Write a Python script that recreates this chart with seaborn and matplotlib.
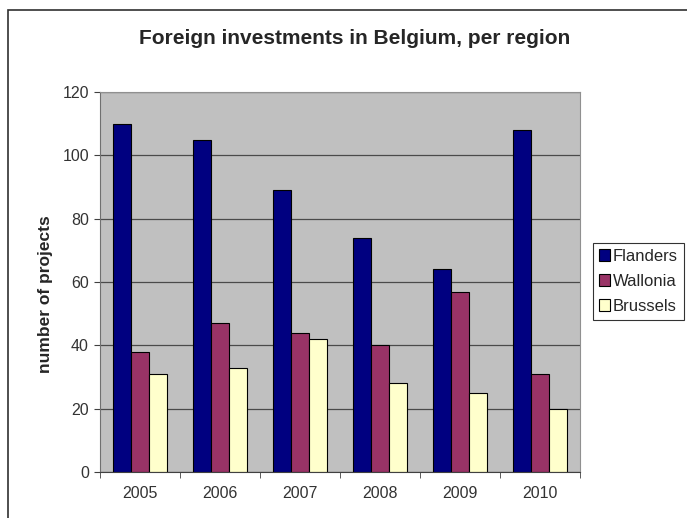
import matplotlib
matplotlib.use("Agg")
import matplotlib.pyplot as plt
import seaborn as sns
import pandas as pd
import numpy as np
from matplotlib.patches import Rectangle

years = ["2005", "2006", "2007", "2008", "2009", "2010"]
regions = ["Flanders", "Wallonia", "Brussels"]
flanders = [110, 105, 89, 74, 64, 108]
wallonia = [38, 47, 44, 40, 57, 31]
brussels = [31, 33, 42, 28, 25, 20]
colors = ["#000080", "#993366", "#FFFFCC"]

df = pd.DataFrame({
    "year": years * 3,
    "region": [r for r in regions for _ in years],
    "projects": flanders + wallonia + brussels,
})

sns.set_style("white")
plt.rcParams['font.family'] = ['Liberation Sans', 'DejaVu Sans']

W, H = 687, 518
fig = plt.figure(figsize=(W / 100, H / 100), dpi=100)
ax = fig.add_axes([100/W, 1-472/H, 480/W, 380/H])
ax.set_facecolor("#C0C0C0")

sns.barplot(data=df, x="year", y="projects", hue="region", hue_order=regions,
            palette=colors, width=0.675, ax=ax, edgecolor="black", linewidth=0.8,
            saturation=1, legend=True)

ax.set_ylim(0, 120)
ax.set_xlim(-0.5, 5.5)
ax.set_yticks(np.arange(0, 121, 20))
ax.yaxis.grid(True, color="#4a4a4a", linewidth=0.9)
ax.set_axisbelow(True)
for s in ["top", "right"]:
    ax.spines[s].set_visible(True)
    ax.spines[s].set_color("#909090")
ax.spines["left"].set_color("#707070")
ax.spines["bottom"].set_color("#404040")
ax.tick_params(axis="y", length=4, direction="out", color="#404040", labelsize=11.5,
               labelcolor="#333333", pad=4, left=True)
ax.set_xticks(np.arange(-0.5, 6, 1), minor=True)
ax.tick_params(axis="x", which="major", length=0, labelsize=11.5, labelcolor="#333333", pad=10)
ax.tick_params(axis="x", which="minor", length=4, direction="out", color="#404040", bottom=True)
ax.set_xlabel("")
ax.set_ylabel("")
fig.text(46/W, 1-294/H, "number of projects", rotation=90, ha="center", va="center",
         fontsize=12.5, fontweight="bold")
fig.text(355/W, 1-38/H, "Foreign investments in Belgium, per region", ha="center",
         va="center", fontsize=15, fontweight="bold")

h, l = ax.get_legend_handles_labels()
ax.get_legend().remove()
leg = fig.legend(h, l, loc="upper left", bbox_to_anchor=(593/W, 1-243/H),
                 frameon=True, fontsize=12, handlelength=0.65, handleheight=0.65,
                 handletextpad=0.2, borderpad=0.35, labelspacing=0.6, fancybox=False,
                 borderaxespad=0)
leg.get_frame().set_edgecolor("black")
leg.get_frame().set_linewidth(0.8)

fig.patches.append(Rectangle((8/W, -0.1), 1.2, 1-10/H+0.1, transform=fig.transFigure,
                             fill=False, edgecolor="#303030", linewidth=1.2))

fig.savefig("out.png", dpi=100)
